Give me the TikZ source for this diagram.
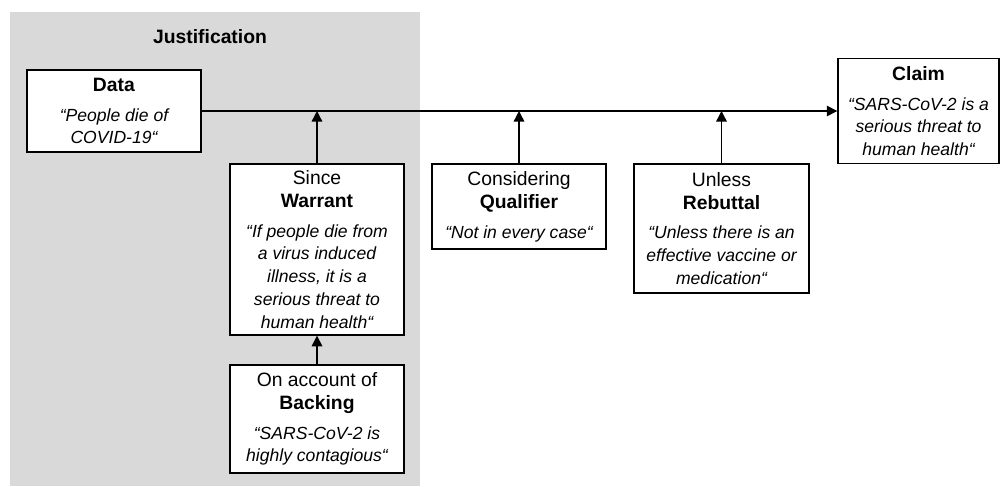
\documentclass[tikz,border=0pt]{standalone}
\usepackage{fontspec}
\setmainfont{Liberation Sans}
\usetikzlibrary{arrows.meta}
\definecolor{justgray}{RGB}{217,217,217}

\newcommand{\qt}[1]{{\fontsize{10}{12}\selectfont\itshape #1}}

\tikzset{
  argbox/.style={draw, line width=0.8pt, fill=white, align=center, inner sep=2pt, minimum width=3.48cm},
  support/.style={line width=0.8pt, -{Triangle[length=6pt,width=6pt]}},
}

\begin{document}
\begin{tikzpicture}[font=\fontsize{11}{13}\selectfont]

    % Background
    \useasboundingbox (0,0) rectangle (20,-9.72);
    \fill[justgray] (0.2,-0.24) rectangle (8.4,-9.72);
    \node[font=\fontsize{11}{13}\selectfont\bfseries] (title) at (4.2,-0.74) {Justification};

    % Draw nodes
    \node[argbox, minimum height=1.64cm] (data) at (2.28,-2.22)
        {\textbf{Data}\\[4pt] \qt{“People die of}\\ \qt{COVID-19“}};
    \node[argbox, minimum width=3.22cm, minimum height=2.1cm] (claim) at (18.37,-2.22)
        {\textbf{Claim}\\[4pt] \qt{“SARS-CoV-2 is a}\\ \qt{serious threat to}\\ \qt{human health“}};
    \node[argbox, minimum height=3.42cm] (warrant) at (6.34,-4.99)
        {Since\\ \textbf{Warrant}\\[4pt] \qt{“If people die from}\\ \qt{a virus induced}\\ \qt{illness, it is a}\\ \qt{serious threat to}\\ \qt{human health“}};
    \node[argbox, minimum height=2.16cm] (backing) at (6.34,-8.38)
        {On account of\\ \textbf{Backing}\\[4pt] \qt{“SARS-CoV-2 is}\\ \qt{highly contagious“}};
    \node[argbox, minimum height=1.7cm] (qualifier) at (10.38,-4.13)
        {Considering\\ \textbf{Qualifier}\\[4pt] \qt{“Not in every case“}};
    \node[argbox, minimum width=3.5cm, minimum height=2.58cm] (rebuttal) at (14.43,-4.57)
        {Unless\\ \textbf{Rebuttal}\\[4pt] \qt{“Unless there is an}\\ \qt{effective vaccine or}\\ \qt{medication“}};

    % Draw arrows
    \draw[support] (data.east) -- (claim.west);
    \draw[support] (warrant.north) -- (warrant.north |- data.east);
    \draw[support] (backing) -- (warrant);
    \draw[support] (qualifier.north) -- (qualifier.north |- data.east);
    \draw[support] (rebuttal.north) -- (rebuttal.north |- data.east);

\end{tikzpicture}
\end{document}
